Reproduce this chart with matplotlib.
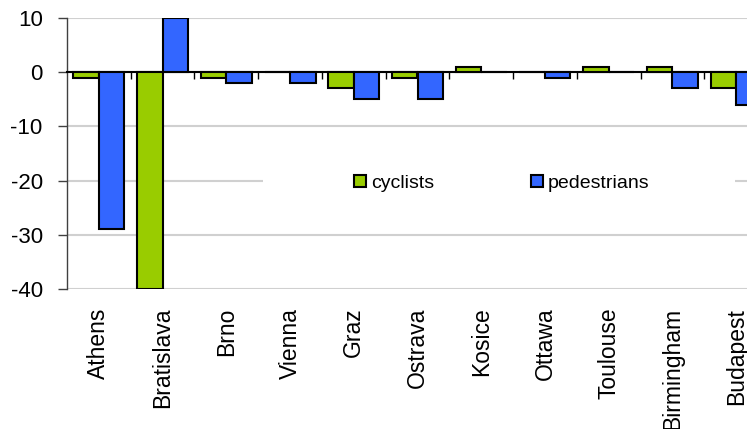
import matplotlib
matplotlib.use("Agg")
import matplotlib.pyplot as plt
import numpy as np
from matplotlib.patches import Rectangle

plt.rcParams['font.family'] = ['Liberation Sans', 'DejaVu Sans']
plt.rcParams['axes.unicode_minus'] = False

cities = ['Athens', 'Bratislava', 'Brno', 'Vienna', 'Graz', 'Ostrava',
          'Kosice', 'Ottawa', 'Toulouse', 'Birmingham', 'Budapest']
cyclists = [-1, -40, -1, 0, -3, -1, 1, 0, 1, 1, -3]
pedestrians = [-29, 10, -2, -2, -5, -5, 0, -1, 0, -3, -6]

green = '#99cc00'
blue = '#3366ff'

fig = plt.figure(figsize=(7.47, 4.29), dpi=100)
# plot area runs a little past the right edge of the image
ax = fig.add_axes([67 / 747, 1 - 289 / 429, 701 / 747, 271 / 429])

x = np.arange(len(cities))
ax.bar(x - 0.2, cyclists, 0.4, color=green, edgecolor='black', linewidth=1.5,
       label='cyclists', zorder=3)
ax.bar(x + 0.2, pedestrians, 0.4, color=blue, edgecolor='black', linewidth=1.5,
       label='pedestrians', zorder=3)

ax.set_xlim(-0.5, len(cities) - 0.5)
ax.set_ylim(-40, 10)
ax.set_yticks(range(-40, 11, 10))
ax.yaxis.grid(True, color='#d0d0d0', linewidth=1.5)
ax.set_axisbelow(True)

for side in ['top', 'right', 'bottom']:
    ax.spines[side].set_visible(False)
ax.spines['left'].set_color('#404040')
ax.spines['left'].set_linewidth(1)

ax.tick_params(axis='y', length=6.5, width=1, pad=11, labelsize=16,
               color='#404040')
ax.set_xticks(x)
ax.set_xticklabels(cities, rotation=90)
ax.tick_params(axis='x', length=0, pad=13.5, labelsize=16.5)

# zero line with the small category dividers
zero = ax.secondary_xaxis(0, transform=ax.transData)
zero.set_alignment('bottom')
zero.set_xticks(x[:-1] + 0.5, labels=[])
zero.tick_params(length=5, width=1, direction='out')
zero.spines['bottom'].set_linewidth(1.5)
zero.set_zorder(2.5)

# white band behind the legend
ax.add_patch(Rectangle((0.28, 0.385), 0.673, 0.03, transform=ax.transAxes,
                       facecolor='white', edgecolor='none', zorder=1))
ax.legend(loc='center', bbox_to_anchor=(0.62, 0.391), ncol=2, frameon=False,
          fontsize=14, handlelength=0.6, handleheight=0.6, handletextpad=0.25,
          columnspacing=5.0)

fig.savefig('out.png', dpi=100)
